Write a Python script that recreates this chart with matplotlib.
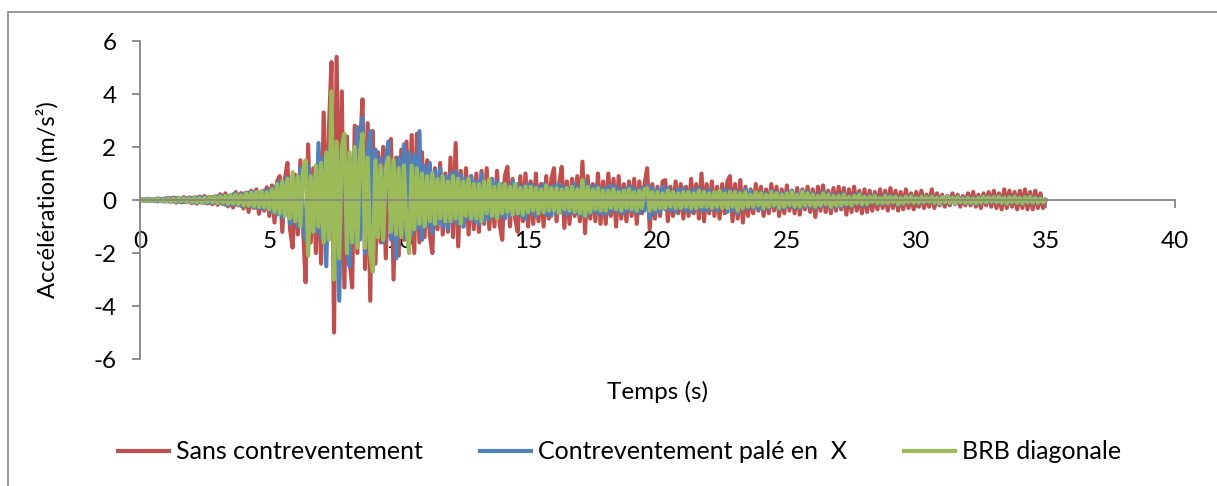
import numpy as np
import matplotlib
matplotlib.use("Agg")
import matplotlib.pyplot as plt
from matplotlib.patches import Rectangle

plt.rcParams['font.family'] = ['Lato', 'DejaVu Sans']
plt.rcParams['axes.unicode_minus'] = False

# acceleration samples every 0.1 s, 0 .. 35 s (one row = one second)
sans_contrev = [
    0.00, 0.03, -0.04, 0.05, -0.03, 0.04, -0.05, 0.06, -0.04, 0.05,
    -0.06, 0.08, -0.07, 0.09, -0.10, 0.08, -0.09, 0.11, -0.08, 0.10,
    -0.12, 0.10, -0.14, 0.13, -0.11, 0.15, -0.13, 0.12, -0.16, 0.14,
    -0.18, 0.22, -0.15, 0.25, -0.24, 0.18, -0.28, 0.30, -0.20, 0.26,
    -0.32, 0.28, -0.45, 0.35, -0.30, 0.40, -0.52, 0.33, -0.40, 0.48,
    -0.60, 0.55, -0.85, 0.70, 0.90, -1.20, 0.80, 1.40, -1.10, -1.80,
    0.95, -1.30, 1.50, -0.90, -3.10, 2.10, -1.60, 1.20, -2.00, 1.80,
    -2.40, 3.30, -1.80, 2.60, 5.20, -5.00, 5.40, -3.00, 4.10, -3.30,
    2.40, -2.20, -3.30, 2.80, -2.00, 1.90, 3.80, -2.60, 2.90, -3.80,
    2.60, -2.40, 1.80, -1.60, 2.00, -2.20, 1.70, 2.30, -3.00, 1.60,
    -2.10, 1.90, -1.50, 2.20, -1.70, 2.45, -2.00, 2.50, -1.60, 1.80,
    -1.40, 1.50, -1.30, -2.00, 1.20, -1.10, 1.40, -1.30, 1.00, -1.20,
    1.60, -1.40, 2.15, -1.75, 1.10, -1.00, 1.20, -1.30, 0.90, -1.10,
    1.00, -1.20, 1.10, -0.90, 1.20, -1.10, 0.80, -1.00, 1.10, -0.90,
    -1.50, 0.90, 1.25, -1.00, 0.80, -0.70, -1.20, 0.90, -0.80, 1.00,
    -1.00, 0.70, -0.90, 1.00, -0.80, 0.60, -1.00, 0.90, -0.70, 0.80,
    1.20, -0.80, 0.60, 1.25, -1.05, 0.70, -0.90, 0.80, -0.60, 0.90,
    -0.80, 1.45, -1.25, 0.90, -0.70, 0.60, -0.80, 1.00, -0.90, 0.70,
    -0.90, 1.00, -0.60, 0.80, -1.00, 0.90, -0.70, 0.60, -0.80, 0.70,
    -0.60, 0.80, -0.90, 0.70, -0.50, 0.60, 1.20, -1.10, 0.60, -0.70,
    0.50, -0.60, 0.70, 0.75, -0.80, 0.50, -0.60, 0.70, -0.50, 0.60,
    -0.70, 0.50, -0.60, 0.80, -0.50, 0.60, -0.70, 1.00, -0.80, 0.60,
    -0.50, 0.70, -0.60, 0.50, -0.70, 0.60, -0.50, 0.70, 0.90, -0.80,
    0.60, -0.70, 0.75, -0.85, 0.50, -0.60, 0.40, -0.50, 0.60, -0.40,
    0.50, -0.60, 0.40, -0.50, 0.60, -0.40, 0.50, -0.60, 0.40, -0.50,
    0.55, -0.40, 0.35, -0.50, 0.45, -0.55, 0.40, -0.35, 0.50, -0.45,
    0.40, -0.64, 0.50, -0.40, 0.55, -0.45, 0.35, -0.50, 0.45, -0.40,
    0.50, -0.35, 0.45, -0.55, 0.40, -0.45, 0.50, -0.40, 0.35, -0.50,
    0.40, -0.45, 0.35, -0.40, 0.30, -0.35, 0.40, -0.30, 0.35, -0.40,
    0.45, -0.30, 0.35, -0.40, 0.30, -0.35, 0.40, -0.30, 0.25, -0.35,
    0.30, -0.25, 0.35, -0.30, 0.20, -0.25, 0.40, -0.30, 0.25, -0.20,
    0.20, -0.25, 0.15, -0.20, 0.25, -0.15, 0.20, -0.25, 0.15, -0.20,
    0.25, -0.20, 0.30, -0.25, 0.20, -0.30, 0.25, -0.20, 0.30, -0.25,
    0.35, -0.30, 0.25, -0.35, 0.40, -0.30, 0.35, -0.25, 0.30, -0.35,
    0.35, -0.30, 0.40, -0.35, 0.30, -0.35, 0.35, -0.30, 0.25, -0.30,
    0.00,
]

contrev_x = [
    0.00, -0.02, 0.03, -0.03, 0.04, -0.03, 0.04, -0.05, 0.04, -0.05,
    0.06, -0.05, 0.07, -0.06, 0.08, -0.07, 0.06, -0.08, 0.07, -0.06,
    0.08, -0.09, 0.10, -0.08, 0.11, -0.10, 0.09, -0.12, 0.10, -0.11,
    0.14, -0.12, 0.16, -0.18, 0.15, -0.20, 0.22, -0.17, 0.20, -0.22,
    0.24, -0.20, 0.28, -0.25, 0.30, -0.28, 0.22, -0.32, 0.35, -0.30,
    0.40, -0.45, 0.50, -0.55, 0.70, -0.65, 0.60, 0.85, -0.90, -0.70,
    0.80, -1.00, 1.20, -0.80, -1.50, 1.30, -1.10, 0.90, -1.20, 2.15,
    -1.40, 1.60, -2.50, 1.80, 2.10, -1.60, 1.50, -3.80, 1.90, 2.40,
    -1.80, -2.50, 1.60, -1.60, 2.75, -1.50, 3.10, -2.00, 1.80, 2.60,
    -1.70, 1.90, -1.40, 1.60, -1.60, 1.50, 2.20, -1.50, 1.40, -2.20,
    1.60, -1.40, 2.10, -1.50, 1.80, -1.30, 1.70, -1.10, 2.60, -1.50,
    1.30, -1.00, 1.40, -1.25, 1.10, -0.90, 1.20, -1.00, 0.90, -1.10,
    1.00, -0.80, 1.10, -0.90, 0.95, -1.00, 0.80, -0.70, 0.90, -0.80,
    0.70, -0.90, 1.00, -0.80, 0.60, -0.70, 0.80, -0.60, 0.70, -0.60,
    0.60, -0.70, 0.50, -0.60, 0.70, -0.50, 0.60, -0.60, 0.50, -0.70,
    0.60, -0.50, 0.55, -0.60, 0.50, -0.45, 0.60, -0.55, 0.50, -0.60,
    0.55, -0.50, 0.60, -0.45, 0.50, -0.55, 0.45, -0.50, 0.60, -0.50,
    0.50, -0.60, 0.70, -0.55, 0.50, -0.45, 0.55, -0.50, 0.45, -0.55,
    0.45, -0.50, 0.55, -0.40, 0.50, -0.45, 0.40, -0.50, 0.45, -0.40,
    0.50, -0.45, 0.40, -0.50, 0.45, -0.40, 0.55, -0.70, 0.45, -0.50,
    0.40, -0.45, 0.50, -0.35, 0.45, -0.40, 0.35, -0.45, 0.40, -0.35,
    0.45, -0.40, 0.35, -0.45, 0.40, -0.35, 0.45, -0.40, 0.35, -0.40,
    0.40, -0.35, 0.30, -0.40, 0.35, -0.30, 0.40, -0.45, 0.35, -0.40,
    0.35, -0.50, 0.30, -0.35, 0.40, -0.30, 0.35, -0.30, 0.25, -0.35,
    0.30, -0.35, 0.25, -0.30, 0.35, -0.25, 0.30, -0.35, 0.25, -0.30,
    0.30, -0.25, 0.35, -0.30, 0.25, -0.30, 0.35, -0.25, 0.30, -0.25,
    0.25, -0.30, 0.20, -0.25, 0.30, -0.20, 0.25, -0.30, 0.20, -0.25,
    0.20, -0.25, 0.25, -0.20, 0.15, -0.25, 0.20, -0.15, 0.25, -0.20,
    0.15, -0.20, 0.15, -0.10, 0.20, -0.15, 0.10, -0.15, 0.20, -0.15,
    0.15, -0.10, 0.15, -0.20, 0.10, -0.15, 0.15, -0.10, 0.15, -0.12,
    0.10, -0.12, 0.15, -0.10, 0.12, -0.08, 0.15, -0.12, 0.10, -0.15,
    0.12, -0.10, 0.15, -0.12, 0.10, -0.15, 0.12, -0.10, 0.08, -0.12,
    0.10, -0.12, 0.08, -0.15, 0.10, -0.12, 0.14, -0.10, 0.12, -0.08,
    0.12, -0.10, 0.14, -0.12, 0.10, -0.14, 0.12, -0.10, 0.15, -0.12,
    0.10, -0.14, 0.12, -0.10, 0.14, -0.12, 0.10, -0.12, 0.08, -0.10,
    0.00,
]

brb_diag = [
    0.00, 0.02, -0.03, 0.03, -0.02, 0.04, -0.03, 0.04, -0.04, 0.03,
    -0.05, 0.04, -0.06, 0.05, -0.06, 0.07, -0.05, 0.06, -0.07, 0.06,
    -0.08, 0.07, -0.09, 0.08, -0.10, 0.09, -0.08, 0.10, -0.09, 0.11,
    -0.12, 0.14, -0.10, 0.16, -0.15, 0.18, -0.14, 0.20, -0.16, 0.18,
    -0.20, 0.25, -0.22, 0.28, -0.24, 0.30, -0.26, 0.32, -0.28, 0.30,
    -0.35, 0.40, -0.45, 0.60, -0.50, 0.70, -0.60, 0.80, -0.70, 1.05,
    -0.80, 0.90, -1.00, 1.10, 1.50, -2.10, 0.90, -1.20, 1.30, -1.00,
    1.40, -1.60, 1.80, -1.50, 4.10, -3.00, 2.20, -2.20, 2.00, 2.50,
    -2.00, 1.80, -1.60, 2.00, -1.80, 1.70, 2.50, -1.80, 1.60, -2.00,
    -2.70, 1.50, -1.40, 1.30, -1.50, 1.20, 1.60, -1.20, 1.50, -1.30,
    1.20, -1.40, 1.30, -1.00, -2.00, 1.30, -1.10, 1.20, -0.90, 1.00,
    -1.00, 0.90, -0.80, 1.00, -0.90, 0.80, -0.70, 0.90, -0.80, 0.70,
    -0.80, 0.90, -0.70, 0.80, -0.90, 0.70, -0.60, 0.80, -0.70, 0.60,
    -0.70, 0.60, -0.80, 0.70, -0.50, 0.80, -0.60, 0.50, -0.70, 0.60,
    -0.50, 0.60, -0.45, 0.50, -0.55, 0.60, -0.50, 0.45, -0.55, 0.50,
    -0.45, 0.50, -0.40, 0.45, -0.50, 0.40, -0.45, 0.55, -0.40, 0.45,
    -0.40, 0.45, -0.50, 0.40, -0.35, 0.45, -0.40, 0.50, -0.45, 0.40,
    -0.50, 0.75, -0.60, 0.50, -0.45, 0.40, -0.35, 0.45, -0.40, 0.35,
    -0.40, 0.35, -0.30, 0.40, -0.35, 0.30, -0.40, 0.35, -0.30, 0.40,
    -0.35, 0.30, -0.40, 0.35, -0.30, 0.40, 0.45, -0.40, 0.30, -0.35,
    0.30, -0.30, 0.25, -0.30, 0.35, -0.25, 0.30, -0.30, 0.25, -0.30,
    0.30, -0.25, 0.30, -0.30, 0.25, -0.30, 0.35, -0.25, 0.30, -0.25,
    0.25, -0.30, 0.30, -0.25, 0.35, -0.30, 0.25, -0.30, 0.30, -0.25,
    0.30, -0.40, 0.25, -0.30, 0.30, -0.25, 0.20, -0.25, 0.30, -0.20,
    0.25, -0.30, 0.20, -0.25, 0.30, -0.20, 0.25, -0.30, 0.20, -0.25,
    0.25, -0.20, 0.30, -0.25, 0.20, -0.25, 0.30, -0.20, 0.25, -0.20,
    0.20, -0.25, 0.15, -0.20, 0.25, -0.15, 0.20, -0.25, 0.15, -0.20,
    0.15, -0.20, 0.20, -0.15, 0.12, -0.20, 0.15, -0.12, 0.20, -0.15,
    0.12, -0.15, 0.12, -0.08, 0.15, -0.12, 0.08, -0.12, 0.15, -0.12,
    0.12, -0.08, 0.12, -0.15, 0.08, -0.12, 0.12, -0.08, 0.12, -0.10,
    0.08, -0.10, 0.12, -0.08, 0.10, -0.06, 0.12, -0.10, 0.08, -0.12,
    0.10, -0.08, 0.12, -0.10, 0.08, -0.12, 0.10, -0.08, 0.06, -0.10,
    0.08, -0.10, 0.06, -0.12, 0.08, -0.10, 0.12, -0.08, 0.10, -0.06,
    0.10, -0.08, 0.12, -0.10, 0.08, -0.12, 0.10, -0.08, 0.12, -0.10,
    0.08, -0.12, 0.10, -0.08, 0.12, -0.10, 0.08, -0.10, 0.06, -0.08,
    0.00,
]

temps = np.arange(len(sans_contrev)) * 0.1

labels = ['Sans contreventement', 'Contreventement palé en  X', 'BRB diagonale']
colors = ['#C0504D', '#4F81BD', '#9BBB59']
gray = '#868686'

fig = plt.figure(figsize=(12.17, 4.86), dpi=100)
ax = fig.add_axes([0.115, 0.2613, 0.8505, 0.6543])

for y, lab, col in zip([sans_contrev, contrev_x, brb_diag], labels, colors):
    ax.plot(temps, y, color=col, lw=3.0, label=lab, solid_joinstyle='round')

ax.set_xlim(0, 40)
ax.set_ylim(-6, 6)
ax.set_xticks(range(0, 41, 5))
ax.set_yticks(range(-6, 7, 2))

ax.spines['top'].set_visible(False)
ax.spines['right'].set_visible(False)
ax.spines['bottom'].set_position(('data', 0))
for s in ['left', 'bottom']:
    ax.spines[s].set_color(gray)
    ax.spines[s].set_linewidth(1.3)
ax.tick_params(axis='both', direction='out', length=6, width=1.3, color=gray,
               labelsize=17.5, labelcolor='black')
ax.tick_params(axis='x', pad=16)
ax.tick_params(axis='y', pad=11)

ax.set_xlabel('Temps (s)', fontsize=17.5)
ax.xaxis.set_label_coords(0.5, -0.07)
ax.set_ylabel('Accélération (m/s²)', fontsize=17)
ax.yaxis.set_label_coords(-0.079, 0.5)

fig.legend(loc='center', bbox_to_anchor=(0.509, 0.07), ncol=3, frameon=False,
           handlelength=2.05, handletextpad=0.25, columnspacing=2.3,
           prop={'size': 18})

# chart-area border
fig.add_artist(Rectangle((8 / 1217, -0.05), 1.2, 0.9753 + 0.05, transform=fig.transFigure,
                         fill=False, edgecolor=gray, lw=1.2, clip_on=False))

fig.savefig('out.png', dpi=100)
